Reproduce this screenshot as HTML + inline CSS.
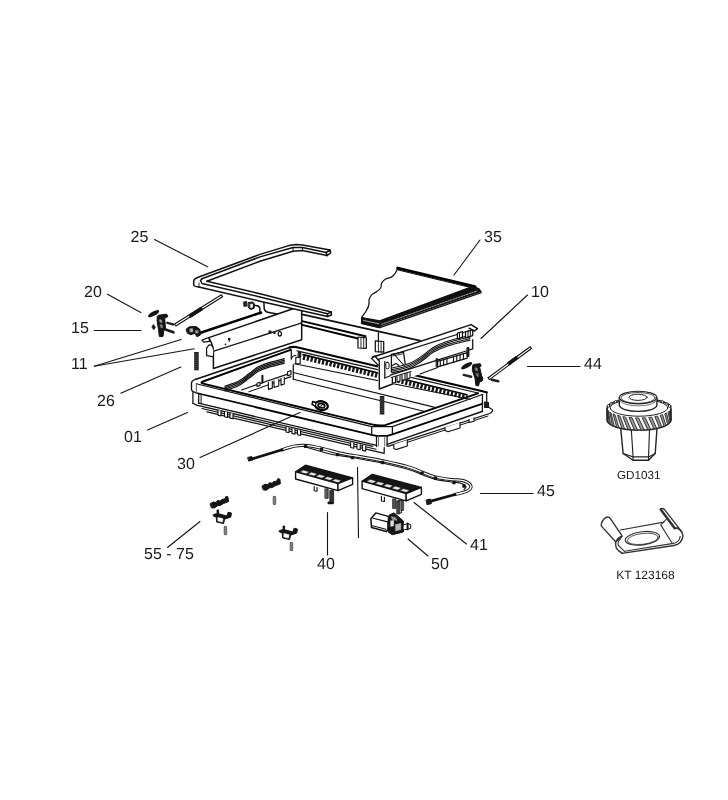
<!DOCTYPE html>
<html><head><meta charset="utf-8"><title>Diagram</title>
<style>
html,body{margin:0;padding:0;background:#fff;}
body{width:728px;height:800px;overflow:hidden;}
svg{display:block;will-change:transform;}
text{font-family:"Liberation Sans",sans-serif;fill:#1a1a1a;text-rendering:geometricPrecision;}
</style></head><body>
<svg width="728" height="800" viewBox="0 0 728 800" stroke-linecap="round" stroke-linejoin="round">
<text x="130.6" y="241.8" font-size="16">25</text>
<text x="484.1" y="241.8" font-size="16">35</text>
<text x="84.1" y="297.0" font-size="16">20</text>
<text x="531.1" y="297.0" font-size="16">10</text>
<text x="71.1" y="333.0" font-size="16">15</text>
<text x="71.1" y="369.0" font-size="16">11</text>
<text x="584.1" y="369.0" font-size="16">44</text>
<text x="97.1" y="405.5" font-size="16">26</text>
<text x="124.1" y="442.0" font-size="16">01</text>
<text x="177.1" y="468.5" font-size="16">30</text>
<text x="537.1" y="496.0" font-size="16">45</text>
<text x="144.1" y="559.0" font-size="16">55 - 75</text>
<text x="317.1" y="568.5" font-size="16">40</text>
<text x="470.1" y="549.5" font-size="16">41</text>
<text x="431.1" y="568.5" font-size="16">50</text>
<text x="617.0" y="479.4" font-size="11.7">GD1031</text>
<text x="616.2" y="579.4" font-size="12">KT 123168</text>
<line x1="154.5" y1="239.5" x2="207.5" y2="266.8" stroke="#151515" stroke-width="1.12"/>
<line x1="107.5" y1="294.2" x2="140.8" y2="312.5" stroke="#151515" stroke-width="1.12"/>
<line x1="94.2" y1="330.5" x2="140.8" y2="330.5" stroke="#151515" stroke-width="1.12"/>
<line x1="94.2" y1="366.2" x2="181.2" y2="339.5" stroke="#151515" stroke-width="1.12"/>
<line x1="94.2" y1="366.2" x2="194.2" y2="348.8" stroke="#151515" stroke-width="1.12"/>
<line x1="120.8" y1="393.2" x2="180.8" y2="367.0" stroke="#151515" stroke-width="1.12"/>
<line x1="480.0" y1="240.0" x2="454.0" y2="275.0" stroke="#151515" stroke-width="1.12"/>
<line x1="527.5" y1="295.0" x2="481.0" y2="338.5" stroke="#151515" stroke-width="1.12"/>
<line x1="527.5" y1="366.5" x2="580.0" y2="366.5" stroke="#151515" stroke-width="1.12"/>
<line x1="147.5" y1="430.0" x2="187.5" y2="412.5" stroke="#151515" stroke-width="1.12"/>
<line x1="200.0" y1="457.5" x2="300.0" y2="412.5" stroke="#151515" stroke-width="1.12"/>
<line x1="167.5" y1="547.5" x2="200.0" y2="521.5" stroke="#151515" stroke-width="1.12"/>
<line x1="327.5" y1="512.5" x2="327.5" y2="555.0" stroke="#151515" stroke-width="1.12"/>
<line x1="357.5" y1="467.5" x2="358.5" y2="537.5" stroke="#151515" stroke-width="1.12"/>
<line x1="408.0" y1="539.0" x2="428.0" y2="556.0" stroke="#151515" stroke-width="1.12"/>
<line x1="480.5" y1="493.5" x2="533.0" y2="493.5" stroke="#151515" stroke-width="1.12"/>
<line x1="414.0" y1="502.5" x2="466.5" y2="544.0" stroke="#151515" stroke-width="1.12"/>
<path d="M397.7,268.1 C397.3,268.9 396.2,271.8 395.2,273.3 C394.1,274.8 392.9,276.2 391.3,277.1 C389.7,278.1 387.2,278.1 385.6,279.0 C384.0,280.0 382.5,281.4 381.7,282.9 C380.9,284.3 381.6,286.2 380.8,287.7 C380.0,289.1 378.4,290.4 376.9,291.5 C375.5,292.7 373.4,293.1 372.1,294.4 C370.8,295.7 369.8,297.5 369.2,299.2 C368.7,301.0 369.3,303.1 368.8,305.0 C368.4,306.9 367.5,308.8 366.3,310.8 C365.2,312.8 362.7,315.9 361.9,316.9 L361.5,323.3 L379.8,327.7 L481.2,292.7 L479.2,289.2 L475.0,286.7 Z" fill="#fff" stroke="#111" stroke-width="1.25" />
<polyline points="397.7,268.1 475.0,286.7" fill="none" stroke="#000" stroke-width="3.0" />
<polyline points="398.1,270.0 473.1,288.1" fill="none" stroke="#111" stroke-width="1.0" />
<polygon points="361.9,317.5 379.8,320.8 470.2,287.3 479.2,289.2 480.8,291.5 380.2,326.0 379.8,327.7 361.5,323.3" fill="#111" stroke="#111" stroke-width="1.25" />
<polyline points="381.7,324.2 476.9,291.0" fill="none" stroke="#ccc" stroke-width="0.8" stroke-dasharray="1.6 1.2"/>
<polyline points="363.5,320.4 378.8,323.8" fill="none" stroke="#ddd" stroke-width="0.75" />
<polyline points="302.1,314.4 419.9,340.7" fill="none" stroke="#111" stroke-width="1.75" />
<polyline points="302.1,321.1 365.5,336.3" fill="none" stroke="#000" stroke-width="2.0" />
<polyline points="302.1,324.9 358.0,338.5" fill="none" stroke="#000" stroke-width="2.0" />
<polygon points="358.0,337.0 366.3,337.8 366.3,348.3 358.0,348.0" fill="#fff" stroke="#111" stroke-width="1.25" />
<polyline points="361.0,337.8 361.0,348.0" fill="none" stroke="#111" stroke-width="0.88" />
<polyline points="363.7,337.8 363.7,348.3" fill="none" stroke="#111" stroke-width="0.88" />
<polyline points="378.4,332.5 378.4,340.8" fill="none" stroke="#111" stroke-width="1.25" />
<polygon points="375.3,340.8 383.7,341.5 383.7,352.1 375.3,351.7" fill="#fff" stroke="#111" stroke-width="1.25" />
<polyline points="378.4,341.1 378.4,351.8" fill="none" stroke="#111" stroke-width="0.88" />
<polyline points="381.1,341.4 381.1,352.1" fill="none" stroke="#111" stroke-width="0.88" />
<path d="M254.8,305.6 Q259.1,305.4 259.8,308.0 L260.0,313.8" fill="none" stroke="#111" stroke-width="1.5" />
<path d="M263.9,302.7 L264.2,308.5 Q264.8,311.9 268.7,312.5 L277.3,314.1" fill="none" stroke="#111" stroke-width="1.5" />
<polygon points="243.7,302.0 246.6,301.3 246.8,306.1 244.2,306.4" fill="#222" stroke="#111" stroke-width="0.75" />
<polygon points="248.5,302.5 252.8,302.0 254.5,304.2 254.1,308.3 250.4,309.5 248.3,307.5" fill="#1a1a1a" stroke="#111" stroke-width="1.0" />
<polygon points="250.6,304.2 252.5,304.0 252.5,307.3 250.6,307.5" fill="#fff" stroke="#fff" stroke-width="0.62" />
<polyline points="199.8,333.0 261.0,312.6" fill="none" stroke="#000" stroke-width="2.5" />
<polygon points="208.8,337.6 301.7,305.8 301.7,339.8 213.4,368.5 213.4,350.4 211.9,344.0" fill="#fff" stroke="#111" stroke-width="1.5" />
<polyline points="213.8,351.1 301.0,323.2" fill="none" stroke="#111" stroke-width="1.25" />
<polygon points="202.0,340.1 208.8,337.5 209.6,341.3 203.6,342.1" fill="#fff" stroke="#111" stroke-width="1.25" />
<path d="M213.4,348.9 Q211.9,343.6 208.8,345.1 L206.6,348.1 L206.6,355.7 L212.9,356.7" fill="#fff" stroke="#111" stroke-width="1.25" />
<circle cx="229.2" cy="339.1" r="1.4" fill="#1a1a1a"/>
<circle cx="225.5" cy="344.3" r="0.9" fill="#1a1a1a"/>
<circle cx="270.0" cy="332.0" r="1.7" fill="#1a1a1a"/>
<circle cx="274.5" cy="332.9" r="1.2" fill="#1a1a1a"/>
<ellipse cx="279.8" cy="333.8" rx="1.6" ry="2.3" fill="#fff" stroke="#000" stroke-width="1.2"/>
<polyline points="229.2,339.5 229.2,341.3" fill="none" stroke="#111" stroke-width="1.12" />
<path d="M196,379.2 L289.5,347.6 Q293.4,346.2 297,347.3" fill="none" stroke="#111" stroke-width="1.62" />
<path d="M289.5,347.6 Q293.4,346.2 297,347.3 L486.7,392.3" fill="none" stroke="#000" stroke-width="2.12" />
<path d="M196,379.2 Q191.3,380.8 191.5,383.5 L191.5,389.5 Q191.5,391.3 196,392.8 L198.5,393.5" fill="none" stroke="#111" stroke-width="1.38" />
<path d="M290.6,349.8 L203,381.5 Q199.5,382.8 203.2,383.7 L371.7,424.3 Q378.5,426 385.2,425.2 L478,393.3" fill="none" stroke="#000" stroke-width="1.88" />
<polyline points="297.0,350.8 478.0,393.0" fill="none" stroke="#111" stroke-width="1.25" />
<polyline points="196.3,383.8 371.7,426.6 392.4,426.6 482.4,394.5" fill="none" stroke="#111" stroke-width="1.12" />
<polyline points="198.5,393.5 371.7,434.8 376.5,435.8 387.1,435.8 392.4,434.3 482.0,403.8" fill="none" stroke="#000" stroke-width="1.75" />
<line x1="196.3" y1="384.0" x2="196.3" y2="392.8" stroke="#555" stroke-width="1.0"/>
<line x1="371.7" y1="426.6" x2="371.7" y2="434.8" stroke="#111" stroke-width="1.25"/>
<line x1="392.4" y1="426.6" x2="392.4" y2="434.3" stroke="#111" stroke-width="1.25"/>
<line x1="482.4" y1="394.5" x2="482.4" y2="411.5" stroke="#111" stroke-width="1.25"/>
<line x1="486.7" y1="392.3" x2="486.7" y2="403.0" stroke="#111" stroke-width="1.25"/>
<line x1="192.9" y1="392.5" x2="192.9" y2="403.3" stroke="#111" stroke-width="1.25"/>
<line x1="198.7" y1="393.8" x2="198.7" y2="403.2" stroke="#111" stroke-width="1.25"/>
<line x1="201.1" y1="394.4" x2="201.1" y2="403.6" stroke="#111" stroke-width="1.0"/>
<polyline points="192.9,403.3 196.6,405.1 372.7,446.3" fill="none" stroke="#111" stroke-width="1.25" />
<polyline points="198.5,403.2 376.5,445.4" fill="none" stroke="#111" stroke-width="1.38" />
<polyline points="207.0,411.9 384.2,453.4 384.2,447.5" fill="none" stroke="#111" stroke-width="1.25" />
<polyline points="202.0,408.5 376.0,449.3" fill="none" stroke="#111" stroke-width="1.12" />
<line x1="376.5" y1="435.8" x2="376.5" y2="446.5" stroke="#111" stroke-width="1.25"/>
<line x1="387.1" y1="435.8" x2="387.1" y2="446.0" stroke="#111" stroke-width="1.25"/>
<line x1="378.5" y1="436.0" x2="378.5" y2="446.0" stroke="#555" stroke-width="0.88"/>
<line x1="384.7" y1="436.0" x2="384.7" y2="446.0" stroke="#555" stroke-width="0.88"/>
<polyline points="387.1,444.4 482.0,411.5" fill="none" stroke="#111" stroke-width="1.38" />
<path d="M388,446.3 L489.6,413.5 Q493.5,411.8 492.2,409.5 L487.5,406.5" fill="none" stroke="#111" stroke-width="1.25" />
<polyline points="396.0,446.0 488.0,416.0" fill="none" stroke="#111" stroke-width="1.0" />
<polygon points="484.8,402.0 488.5,402.5 488.5,407.5 484.8,407.5" fill="#222" stroke="#111" stroke-width="1.0" />
<polyline points="218.0,410.0 218.0,415.2 221.0,415.9 221.0,410.7" fill="#fff" stroke="#111" stroke-width="1.12" />
<polyline points="224.5,411.6 224.5,416.8 227.5,417.5 227.5,412.3" fill="#fff" stroke="#111" stroke-width="1.12" />
<polyline points="230.0,412.9 230.0,418.1 233.0,418.8 233.0,413.6" fill="#fff" stroke="#111" stroke-width="1.12" />
<polyline points="350.6,442.5 350.6,447.5 353.8,448.3 353.8,443.3" fill="#fff" stroke="#111" stroke-width="1.12" />
<polyline points="357.0,444.0 357.0,449.0 360.2,449.8 360.2,444.8" fill="#fff" stroke="#111" stroke-width="1.12" />
<polyline points="362.5,445.4 362.5,450.4 365.7,451.1 365.7,446.1" fill="#fff" stroke="#111" stroke-width="1.12" />
<polyline points="286.0,427.0 286.0,432.0 289.0,432.7 289.0,427.7" fill="#fff" stroke="#111" stroke-width="1.12" />
<polyline points="292.0,428.4 292.0,433.4 295.0,434.2 295.0,429.2" fill="#fff" stroke="#111" stroke-width="1.12" />
<polyline points="297.5,429.8 297.5,434.8 300.5,435.5 300.5,430.5" fill="#fff" stroke="#111" stroke-width="1.12" />
<polyline points="393.8,444.5 393.8,448.6 396.0,449.6 407.3,446.0 407.3,440.0" fill="#fff" stroke="#111" stroke-width="1.12" />
<polyline points="445.0,427.5 445.0,430.5 448.0,431.8 460.0,428.0 460.0,422.5" fill="#fff" stroke="#111" stroke-width="1.12" />
<polyline points="469.0,419.5 469.0,422.5 474.0,421.2 474.0,417.8" fill="#fff" stroke="#111" stroke-width="1.12" />
<line x1="291.3" y1="350.0" x2="291.3" y2="359.0" stroke="#111" stroke-width="1.25"/>
<line x1="293.3" y1="364.5" x2="293.3" y2="379.5" stroke="#111" stroke-width="1.25"/>
<polygon points="295.8,357.5 300.2,357.0 300.2,363.5 295.8,364.0" fill="#fff" stroke="#111" stroke-width="1.12" />
<polygon points="298.5,352.5 300.8,352.5 300.8,357.0 298.5,357.0" fill="#222" stroke="#111" stroke-width="1.0" />
<path d="M291.3,359 Q292,355.5 296,355.5" fill="none" stroke="#111" stroke-width="1.12" />
<line x1="303.0" y1="354.6" x2="467.0" y2="394.7" stroke="#000" stroke-width="1.62"/>
<line x1="303.0" y1="357.3" x2="467.0" y2="397.4" stroke="#151515" stroke-width="4.8" stroke-dasharray="2.3 1.6" stroke-linecap="butt"/>
<line x1="294.6" y1="363.7" x2="470.0" y2="399.3" stroke="#111" stroke-width="1.12"/>
<line x1="293.2" y1="372.5" x2="434.8" y2="407.4" stroke="#111" stroke-width="1.12"/>
<line x1="293.2" y1="379.3" x2="423.8" y2="411.2" stroke="#111" stroke-width="1.12"/>
<path d="M225.0,386.2 C227.4,385.3 235.3,382.8 239.3,380.7 C243.3,378.6 246.1,375.9 249.2,373.6 C252.3,371.3 254.7,368.8 258.0,367.0 C261.3,365.2 264.6,364.0 269.0,362.6 C273.4,361.2 281.8,359.4 284.3,358.7" fill="none" stroke="#111" stroke-width="1.25" />
<path d="M225.0,387.7 C227.4,386.8 235.3,384.3 239.3,382.2 C243.3,380.1 246.1,377.4 249.2,375.1 C252.3,372.8 254.7,370.3 258.0,368.5 C261.3,366.7 264.6,365.5 269.0,364.1 C273.4,362.7 281.8,360.9 284.3,360.2" fill="none" stroke="#111" stroke-width="1.25" />
<path d="M225.0,389.2 C227.4,388.3 235.3,385.8 239.3,383.7 C243.3,381.6 246.1,378.9 249.2,376.6 C252.3,374.3 254.7,371.8 258.0,370.0 C261.3,368.2 264.6,367.0 269.0,365.6 C273.4,364.2 281.8,362.4 284.3,361.7" fill="none" stroke="#111" stroke-width="1.25" />
<path d="M225.0,390.7 C227.4,389.8 235.3,387.3 239.3,385.2 C243.3,383.1 246.1,380.4 249.2,378.1 C252.3,375.8 254.7,373.3 258.0,371.5 C261.3,369.7 264.6,368.5 269.0,367.1 C273.4,365.7 281.8,363.9 284.3,363.2" fill="none" stroke="#111" stroke-width="1.25" />
<polyline points="241.5,390.0 256.9,384.6 287.6,374.1" fill="none" stroke="#111" stroke-width="1.12" />
<polyline points="249.0,391.8 291.0,376.6" fill="none" stroke="#111" stroke-width="1.12" />
<polyline points="262.4,375.8 262.4,382.4" fill="none" stroke="#111" stroke-width="2.0" />
<polygon points="257.0,383.2 260.0,382.2 260.0,385.4 257.0,386.4" fill="#fff" stroke="#111" stroke-width="1.12" />
<polygon points="287.6,371.8 291.0,370.6 291.0,374.6 287.6,375.8" fill="#fff" stroke="#111" stroke-width="1.12" />
<polyline points="268.4,382.6 268.4,389.4 272.3,388.1 272.3,381.3" fill="#fff" stroke="#111" stroke-width="1.12" />
<polyline points="274.0,380.7 274.0,387.5 278.8,385.9 278.8,379.1" fill="#fff" stroke="#111" stroke-width="1.12" />
<polyline points="281.0,378.3 281.0,385.1 284.3,384.0 284.3,377.2" fill="#fff" stroke="#111" stroke-width="1.12" />
<g transform="translate(321.4,405.6) rotate(12)"><ellipse rx="6.5" ry="4.3" fill="#fff" stroke="#000" stroke-width="2.2"/><ellipse rx="3.4" ry="2.1" fill="none" stroke="#000" stroke-width="1.7"/><circle r="0.9" fill="#333"/><path d="M-6.4,-1.8 l-3,-0.4 l0,3 l3,0.8" fill="#fff" stroke="#000" stroke-width="1.5"/></g>
<polygon points="330.0,250.0 302.5,245.0 296.2,244.4 288.8,245.6 260.0,254.4 197.5,277.5 194.0,280.0 193.8,285.0 198.8,286.9 260.0,301.2 327.5,316.4 331.5,315.0 331.2,311.9 260.0,293.8 206.9,281.2 260.0,261.2 293.0,251.2 302.5,250.6 326.9,255.6 330.6,253.0" fill="#fff" stroke="#fff" stroke-width="0.12" />
<polyline points="330.0,250.0 302.5,245.0 296.2,244.4 288.8,245.6 260.0,254.4 197.5,277.5" fill="none" stroke="#111" stroke-width="1.5" />
<path d="M197.5,277.5 Q193.6,279 193.75,281.5 L193.75,285 Q194,286.5 198.75,286.9" fill="none" stroke="#111" stroke-width="1.5" />
<polyline points="326.2,252.5 302.5,247.5 293.0,247.5 260.0,256.9 201.9,278.8" fill="none" stroke="#111" stroke-width="1.5" />
<polyline points="326.9,255.6 302.5,250.6 293.0,251.2 260.0,261.2 206.9,281.2" fill="none" stroke="#111" stroke-width="1.5" />
<polygon points="326.2,252.5 330.0,250.0 330.6,253.0 326.9,255.6" fill="none" stroke="#111" stroke-width="1.5" />
<line x1="293.0" y1="247.5" x2="293.0" y2="251.2" stroke="#111" stroke-width="1.0"/>
<line x1="302.5" y1="247.5" x2="302.5" y2="250.6" stroke="#111" stroke-width="1.0"/>
<polyline points="206.9,281.2 260.0,293.8 331.2,311.9" fill="none" stroke="#111" stroke-width="1.5" />
<polyline points="201.9,278.8 200.5,280.5 202.0,283.5 260.0,297.0 327.5,313.8" fill="none" stroke="#111" stroke-width="1.5" />
<polyline points="198.8,286.9 260.0,301.2 327.5,316.4" fill="none" stroke="#111" stroke-width="1.5" />
<polygon points="327.5,313.8 331.2,311.9 331.5,315.0 327.5,316.5" fill="none" stroke="#111" stroke-width="1.5" />
<line x1="199.0" y1="283.0" x2="199.0" y2="286.5" stroke="#111" stroke-width="0.88"/>
<rect x="194.2" y="352.0" width="4.5" height="18.3" fill="#1a1a1a"/>
<line x1="194.8" y1="354.4" x2="198.1" y2="353.6" stroke="#777" stroke-width="0.5"/>
<line x1="194.8" y1="356.5" x2="198.1" y2="355.7" stroke="#777" stroke-width="0.5"/>
<line x1="194.8" y1="358.5" x2="198.1" y2="357.7" stroke="#777" stroke-width="0.5"/>
<line x1="194.8" y1="360.5" x2="198.1" y2="359.7" stroke="#777" stroke-width="0.5"/>
<line x1="194.8" y1="362.6" x2="198.1" y2="361.8" stroke="#777" stroke-width="0.5"/>
<line x1="194.8" y1="364.6" x2="198.1" y2="363.8" stroke="#777" stroke-width="0.5"/>
<line x1="194.8" y1="366.6" x2="198.1" y2="365.8" stroke="#777" stroke-width="0.5"/>
<line x1="194.8" y1="368.7" x2="198.1" y2="367.9" stroke="#777" stroke-width="0.5"/>
<rect x="379.8" y="396.0" width="4.5" height="18.5" fill="#1a1a1a"/>
<line x1="380.4" y1="398.5" x2="383.7" y2="397.7" stroke="#777" stroke-width="0.5"/>
<line x1="380.4" y1="400.5" x2="383.7" y2="399.7" stroke="#777" stroke-width="0.5"/>
<line x1="380.4" y1="402.6" x2="383.7" y2="401.8" stroke="#777" stroke-width="0.5"/>
<line x1="380.4" y1="404.6" x2="383.7" y2="403.8" stroke="#777" stroke-width="0.5"/>
<line x1="380.4" y1="406.7" x2="383.7" y2="405.9" stroke="#777" stroke-width="0.5"/>
<line x1="380.4" y1="408.7" x2="383.7" y2="407.9" stroke="#777" stroke-width="0.5"/>
<line x1="380.4" y1="410.8" x2="383.7" y2="410.0" stroke="#777" stroke-width="0.5"/>
<line x1="380.4" y1="412.8" x2="383.7" y2="412.0" stroke="#777" stroke-width="0.5"/>
<polygon points="372.1,357.5 471.1,324.6 477.5,328.6 474.5,331.0 472.7,340.0 472.7,348.8 468.9,350.0 468.9,356.5 467.3,358.1 437.6,367.2 420.0,374.0 392.5,384.0 378.2,389.0 378.2,361.5" fill="#fff" stroke="#fff" stroke-width="0.12" />
<polyline points="373.2,357.0 471.1,324.6 477.5,328.6 474.5,331.0 469.0,328.2" fill="none" stroke="#111" stroke-width="1.5" />
<polyline points="377.5,359.6 470.4,330.2" fill="none" stroke="#111" stroke-width="1.12" />
<path d="M371.8,358.6 Q372.5,356 375,356.3 L379.3,361 L379.3,389 L392.5,384 L392.5,378" fill="none" stroke="#111" stroke-width="1.38" />
<line x1="371.8" y1="358.6" x2="378.2" y2="365.3" stroke="#111" stroke-width="1.25"/>
<line x1="384.8" y1="361.5" x2="384.8" y2="378.0" stroke="#111" stroke-width="1.25"/>
<line x1="384.8" y1="378.0" x2="390.3" y2="375.8" stroke="#111" stroke-width="1.12"/>
<rect x="385.8" y="362.3" width="3.2" height="6.5" rx="1.5" fill="#fff" stroke="#000" stroke-width="0.9"/>
<polyline points="391.4,372.0 391.4,354.3 403.5,351.8 405.2,364.0" fill="none" stroke="#111" stroke-width="1.25" />
<polyline points="393.0,356.0 402.5,353.8" fill="none" stroke="#111" stroke-width="0.88" />
<polyline points="395.2,355.5 404.0,365.5" fill="none" stroke="#111" stroke-width="1.12" />
<polyline points="391.4,366.0 396.0,363.5 399.0,365.5" fill="none" stroke="#111" stroke-width="1.12" />
<path d="M392.0,368.0 C394.8,367.3 404.0,365.6 409.0,363.6 C414.0,361.6 418.1,358.7 422.1,356.0 C426.1,353.3 429.0,350.0 433.2,347.5 C437.4,345.0 441.4,343.2 447.5,341.2 C453.6,339.2 466.2,336.3 470.0,335.3" fill="none" stroke="#111" stroke-width="1.12" />
<path d="M392.0,369.6 C394.8,368.9 404.0,367.2 409.0,365.2 C414.0,363.2 418.1,360.3 422.1,357.6 C426.1,354.9 429.0,351.6 433.2,349.1 C437.4,346.6 441.4,344.8 447.5,342.8 C453.6,340.8 466.2,337.9 470.0,336.9" fill="none" stroke="#111" stroke-width="1.12" />
<path d="M392.0,371.2 C394.8,370.5 404.0,368.8 409.0,366.8 C414.0,364.8 418.1,361.9 422.1,359.2 C426.1,356.5 429.0,353.2 433.2,350.7 C437.4,348.2 441.4,346.4 447.5,344.4 C453.6,342.4 466.2,339.5 470.0,338.5" fill="none" stroke="#111" stroke-width="1.12" />
<path d="M392.0,372.8 C394.8,372.1 404.0,370.4 409.0,368.4 C414.0,366.4 418.1,363.5 422.1,360.8 C426.1,358.1 429.0,354.8 433.2,352.3 C437.4,349.8 441.4,348.0 447.5,346.0 C453.6,344.0 466.2,341.1 470.0,340.1" fill="none" stroke="#111" stroke-width="1.12" />
<polyline points="390.3,375.2 436.5,360.3 466.2,351.0" fill="none" stroke="#111" stroke-width="1.25" />
<polyline points="391.4,377.5 411.0,371.5" fill="none" stroke="#111" stroke-width="1.12" />
<polyline points="392.5,377.8 392.5,383.3 395.5,382.4 395.5,376.9" fill="#fff" stroke="#111" stroke-width="1.12" />
<polyline points="397.0,376.4 397.0,381.9 400.0,381.1 400.0,375.6" fill="#fff" stroke="#111" stroke-width="1.12" />
<polyline points="402.0,374.9 402.0,380.4 405.0,379.6 405.0,374.1" fill="#fff" stroke="#111" stroke-width="1.12" />
<polyline points="407.0,373.4 407.0,378.9 410.0,378.1 410.0,372.6" fill="#fff" stroke="#111" stroke-width="1.12" />
<polygon points="437.6,361.4 467.3,352.6 467.3,358.1 437.6,366.9" fill="#fff" stroke="#111" stroke-width="1.12" />
<line x1="440.3" y1="360.6" x2="440.3" y2="366.1" stroke="#111" stroke-width="1.12"/>
<line x1="443.6" y1="359.6" x2="443.6" y2="365.1" stroke="#111" stroke-width="1.12"/>
<line x1="446.9" y1="358.6" x2="446.9" y2="364.1" stroke="#111" stroke-width="1.12"/>
<line x1="453.5" y1="356.7" x2="453.5" y2="362.2" stroke="#111" stroke-width="1.12"/>
<line x1="456.8" y1="355.7" x2="456.8" y2="361.2" stroke="#111" stroke-width="1.12"/>
<line x1="460.1" y1="354.7" x2="460.1" y2="360.2" stroke="#111" stroke-width="1.12"/>
<line x1="463.4" y1="353.8" x2="463.4" y2="359.3" stroke="#111" stroke-width="1.12"/>
<polygon points="436.5,358.7 437.6,358.7 437.6,366.5 436.5,366.5" fill="#111" stroke="#111" stroke-width="1.0" />
<polygon points="467.3,347.6 468.9,347.6 468.9,356.5 467.3,356.5" fill="#111" stroke="#111" stroke-width="1.0" />
<polyline points="420.0,374.0 437.6,367.5" fill="none" stroke="#111" stroke-width="1.25" />
<polyline points="472.7,339.5 472.7,348.8 468.9,350.0" fill="none" stroke="#111" stroke-width="1.25" />
<polygon points="457.4,333.2 462.5,331.6 462.5,337.2 457.4,338.8" fill="#fff" stroke="#111" stroke-width="1.25" />
<polygon points="465.5,332.0 472.7,329.8 472.7,335.6 465.5,337.8" fill="#fff" stroke="#111" stroke-width="1.25" />
<line x1="459.5" y1="332.6" x2="459.5" y2="338.2" stroke="#111" stroke-width="1.0"/>
<line x1="468.0" y1="331.2" x2="468.0" y2="337.0" stroke="#111" stroke-width="1.0"/>
<line x1="470.3" y1="330.5" x2="470.3" y2="336.3" stroke="#111" stroke-width="1.0"/>
<ellipse cx="153.6" cy="313.7" rx="6.3" ry="2.2" fill="#151515" transform="rotate(-29.0 153.6 313.7)"/>
<polygon points="158.5,315.3 166.6,314.1 167.9,316.6 164.7,318.2 165.6,329.3 163.7,331.0 163.0,336.4 159.3,336.4 158.5,329.6 157.1,320.9 157.3,316.6" fill="#151515" stroke="#111" stroke-width="1.0" />
<polygon points="159.8,319.7 161.6,320.0 162.0,322.4 160.1,322.1" fill="#999" stroke="#999" stroke-width="0.62" />
<polygon points="160.4,324.6 162.2,325.0 162.5,327.7 160.8,327.3" fill="#888" stroke="#888" stroke-width="0.62" />
<polygon points="153.6,324.9 155.3,327.1 153.8,329.6 152.1,327.3" fill="#151515" stroke="#111" stroke-width="1.0" />
<polyline points="167.4,322.9 173.1,324.4" fill="none" stroke="#222" stroke-width="2.5" />
<polyline points="166.2,329.8 173.4,332.3" fill="none" stroke="#1a1a1a" stroke-width="2.75" />
<polygon points="175.8,326.0 222.6,296.8 221.4,294.8 174.6,324.0" fill="#fff" stroke="#111" stroke-width="1.12" />
<polygon points="190.8,317.3 202.8,309.7 201.2,307.1 189.2,314.7" fill="#151515" stroke="#111" stroke-width="1.0" />
<polygon points="186.4,328.9 189.4,326.8 196.2,326.6 200.0,329.6 200.3,335.1 196.9,336.7 195.0,333.3 190.7,334.7 187.6,333.3" fill="#151515" stroke="#111" stroke-width="1.0" />
<polygon points="190.1,328.9 192.5,328.6 192.9,331.4 190.4,332.0" fill="#bbb" stroke="#bbb" stroke-width="0.62" />
<polygon points="195.6,330.8 198.1,330.5 198.1,333.0 195.9,333.0" fill="#999" stroke="#999" stroke-width="0.62" />
<ellipse cx="466.7" cy="365.7" rx="6.3" ry="2.2" fill="#151515" transform="rotate(-30.0 466.7 365.7)"/>
<polygon points="473.5,364.4 480.3,363.7 481.2,365.9 479.7,367.4 481.6,375.8 482.9,378.3 482.2,381.0 479.4,382.0 478.7,385.7 476.0,385.7 475.0,378.3 472.3,370.2 472.6,365.9" fill="#151515" stroke="#111" stroke-width="1.0" />
<polygon points="475.4,367.8 477.2,368.1 477.6,370.8 475.8,370.6" fill="#888" stroke="#888" stroke-width="0.62" />
<polygon points="476.3,373.3 478.2,373.7 478.5,376.4 476.8,376.0" fill="#777" stroke="#777" stroke-width="0.62" />
<polyline points="463.7,374.9 471.1,376.8" fill="none" stroke="#222" stroke-width="2.5" />
<polygon points="489.5,379.6 531.5,348.5 530.1,346.7 488.1,377.8" fill="#fff" stroke="#111" stroke-width="1.12" />
<polygon points="509.5,364.7 517.9,358.5 516.1,356.3 507.7,362.5" fill="#151515" stroke="#111" stroke-width="1.0" />
<polyline points="491.7,379.7 498.3,381.2" fill="none" stroke="#222" stroke-width="2.5" />
<path d="M282.0,449.8 C283.9,449.2 289.9,447.0 293.6,446.3 C297.3,445.6 299.8,445.1 304.3,445.4 C308.8,445.7 314.4,446.7 320.4,448.0 C326.3,449.3 334.2,451.9 340.0,453.2 C345.8,454.5 348.0,454.6 355.0,455.8 C362.0,457.0 372.9,458.7 381.8,460.6 C390.7,462.5 401.8,465.0 408.6,467.0 C415.5,469.0 418.4,470.9 422.9,472.6 C427.4,474.3 430.6,475.8 435.4,477.0 C440.1,478.2 446.9,479.0 451.4,479.6 C455.8,480.2 458.9,479.5 462.1,480.4 C465.3,481.3 469.5,483.3 470.5,485.0 C471.5,486.7 470.6,489.0 468.0,490.6 C465.4,492.2 457.2,493.9 455.0,494.5" fill="none" stroke="#111" stroke-width="3.25" />
<path d="M282.0,449.8 C283.9,449.2 289.9,447.0 293.6,446.3 C297.3,445.6 299.8,445.1 304.3,445.4 C308.8,445.7 314.4,446.7 320.4,448.0 C326.3,449.3 334.2,451.9 340.0,453.2 C345.8,454.5 348.0,454.6 355.0,455.8 C362.0,457.0 372.9,458.7 381.8,460.6 C390.7,462.5 401.8,465.0 408.6,467.0 C415.5,469.0 418.4,470.9 422.9,472.6 C427.4,474.3 430.6,475.8 435.4,477.0 C440.1,478.2 446.9,479.0 451.4,479.6 C455.8,480.2 458.9,479.5 462.1,480.4 C465.3,481.3 469.5,483.3 470.5,485.0 C471.5,486.7 470.6,489.0 468.0,490.6 C465.4,492.2 457.2,493.9 455.0,494.5" fill="none" stroke="#fff" stroke-width="1.38" />
<path d="M304.3,446.5 C306.2,447.1 311.7,448.8 316.0,450.0 C320.3,451.2 323.5,452.7 330.0,454.0 C336.5,455.3 346.4,456.5 355.0,458.0 C363.6,459.5 372.9,461.1 381.8,463.0 C390.7,464.9 401.8,467.5 408.6,469.5 C415.5,471.5 418.4,473.4 422.9,475.0 C427.4,476.6 430.6,478.2 435.4,479.4 C440.1,480.6 447.3,481.4 451.4,482.0 C455.5,482.6 457.6,482.2 460.0,483.0 C462.4,483.8 465.3,485.4 466.0,486.5 C466.7,487.6 464.3,489.0 464.0,489.5" fill="none" stroke="#111" stroke-width="1.12" />
<line x1="252.5" y1="458.8" x2="282.0" y2="449.8" stroke="#111" stroke-width="2.75"/>
<polygon points="248.0,457.4 251.8,456.6 252.8,460.0 249.0,461.0" fill="#151515" stroke="#111" stroke-width="1.0" />
<line x1="455.0" y1="494.5" x2="430.0" y2="501.3" stroke="#111" stroke-width="2.75"/>
<polygon points="426.4,500.0 430.4,499.0 431.4,503.6 427.4,504.6" fill="#151515" stroke="#111" stroke-width="1.0" />
<rect x="303.8" y="444.6" width="3.4" height="3.4" rx="0.8" fill="#151515"/>
<rect x="319.8" y="447.5" width="3.4" height="3.4" rx="0.8" fill="#151515"/>
<rect x="335.8" y="452.9" width="3.4" height="3.4" rx="0.8" fill="#151515"/>
<rect x="350.8" y="455.9" width="3.4" height="3.4" rx="0.8" fill="#151515"/>
<rect x="380.8" y="460.8" width="3.4" height="3.4" rx="0.8" fill="#151515"/>
<rect x="420.3" y="471.5" width="3.4" height="3.4" rx="0.8" fill="#151515"/>
<rect x="433.7" y="476.3" width="3.4" height="3.4" rx="0.8" fill="#151515"/>
<rect x="452.3" y="480.8" width="3.4" height="3.4" rx="0.8" fill="#151515"/>
<rect x="462.3" y="484.3" width="3.4" height="3.4" rx="0.8" fill="#151515"/>
<polygon points="295.6,471.8 305.4,465.2 352.6,477.8 338.0,483.6" fill="#151515" stroke="#111" stroke-width="1.25" />
<polygon points="295.6,471.8 338.0,483.6 338.0,490.6 295.6,479.0" fill="#fff" stroke="#111" stroke-width="1.38" />
<polygon points="338.0,483.6 352.6,477.8 352.6,484.4 338.0,490.6" fill="#fff" stroke="#111" stroke-width="1.38" />
<polygon points="303.4,470.4 308.6,471.9 306.0,473.4 300.8,471.9" fill="#e8e8e8" stroke="#e8e8e8" stroke-width="0.25" />
<polygon points="311.4,472.6 316.6,474.1 314.0,475.6 308.8,474.2" fill="#e8e8e8" stroke="#e8e8e8" stroke-width="0.25" />
<polygon points="319.4,474.8 324.6,476.2 322.0,477.8 316.8,476.4" fill="#e8e8e8" stroke="#e8e8e8" stroke-width="0.25" />
<polygon points="327.4,477.0 332.6,478.4 330.0,480.0 324.8,478.6" fill="#e8e8e8" stroke="#e8e8e8" stroke-width="0.25" />
<polygon points="335.4,479.2 340.6,480.7 338.0,482.2 332.8,480.8" fill="#e8e8e8" stroke="#e8e8e8" stroke-width="0.25" />
<polyline points="314.2,486.4 314.2,490.8 317.0,491.3 317.0,487.2" fill="#fff" stroke="#111" stroke-width="1.12" />
<rect x="325.2" y="488.8" width="3.0" height="9.5" fill="#555" stroke="#111" stroke-width="0.7"/>
<rect x="330.4" y="490.3" width="3.2" height="12.5" fill="#fff" stroke="#111" stroke-width="0.9"/>
<rect x="327.5" y="501.6" width="6.4" height="2.6" rx="1" fill="#151515"/>
<rect x="329.6" y="490" width="3.6" height="12" fill="#333"/>
<polygon points="362.1,481.2 372.3,474.3 421.4,487.4 406.2,493.5" fill="#151515" stroke="#111" stroke-width="1.25" />
<polygon points="362.1,481.2 406.2,493.5 406.2,500.8 362.1,488.7" fill="#fff" stroke="#111" stroke-width="1.38" />
<polygon points="406.2,493.5 421.4,487.4 421.4,494.3 406.2,500.8" fill="#fff" stroke="#111" stroke-width="1.38" />
<polygon points="370.2,479.7 375.6,481.3 372.9,482.9 367.5,481.4" fill="#e8e8e8" stroke="#e8e8e8" stroke-width="0.25" />
<polygon points="378.5,482.0 383.9,483.5 381.2,485.2 375.8,483.6" fill="#e8e8e8" stroke="#e8e8e8" stroke-width="0.25" />
<polygon points="386.9,484.3 392.3,485.8 389.6,487.4 384.1,485.9" fill="#e8e8e8" stroke="#e8e8e8" stroke-width="0.25" />
<polygon points="395.2,486.6 400.6,488.1 397.9,489.7 392.5,488.2" fill="#e8e8e8" stroke="#e8e8e8" stroke-width="0.25" />
<polygon points="403.5,488.9 408.9,490.4 406.2,492.0 400.8,490.5" fill="#e8e8e8" stroke="#e8e8e8" stroke-width="0.25" />
<polyline points="381.4,496.4 381.4,501.0 384.4,501.5 384.4,497.2" fill="#fff" stroke="#111" stroke-width="1.12" />
<rect x="392.9" y="498.9" width="3.0" height="9.5" fill="#555" stroke="#111" stroke-width="0.7"/>
<rect x="398.3" y="500.4" width="3.2" height="12.5" fill="#fff" stroke="#111" stroke-width="0.9"/>
<rect x="401.2" y="500.5" width="2.4" height="10" fill="#555" stroke="#111" stroke-width="0.6"/>
<rect x="396.8" y="501" width="3.0" height="13" fill="#444" stroke="#111" stroke-width="0.6"/>
<polygon points="372.1,517.2 375.8,512.9 390.0,516.9 390.0,527.5 386.3,531.4 371.5,527.5 370.9,519.0" fill="#fff" stroke="#111" stroke-width="1.5" />
<polyline points="373.0,518.2 387.8,521.9 387.8,529.8" fill="none" stroke="#111" stroke-width="1.12" />
<polyline points="387.8,521.9 389.7,519.7" fill="none" stroke="#111" stroke-width="1.12" />
<polyline points="372.4,525.8 386.0,529.3" fill="none" stroke="#111" stroke-width="1.12" />
<polygon points="389.7,514.7 394.0,512.9 403.3,520.9 403.3,532.0 392.4,534.7 388.2,532.0 388.2,517.8" fill="#151515" stroke="#111" stroke-width="1.0" />
<polygon points="395.8,524.6 400.8,523.6 400.8,529.6 395.8,530.8" fill="#bbb" stroke="#bbb" stroke-width="0.62" />
<polygon points="390.9,520.9 393.6,520.4 393.6,525.8 390.9,526.3" fill="#ddd" stroke="#ddd" stroke-width="0.62" />
<polygon points="391.5,516.6 395.8,517.8 397.1,520.3 392.4,519.4" fill="#999" stroke="#999" stroke-width="0.62" />
<polygon points="403.3,524.9 407.6,523.6 410.7,524.6 410.7,528.3 407.6,529.3 403.3,529.8" fill="#fff" stroke="#111" stroke-width="1.0" />
<polyline points="407.6,523.6 407.6,529.3" fill="none" stroke="#111" stroke-width="2.0" />
<polygon points="210.3,503.7 213.3,502.0 216.3,502.6 217.3,500.6 220.3,501.0 221.8,499.4 224.8,499.0 225.8,496.6 227.9,496.8 228.5,501.6 223.3,503.6 220.3,505.4 217.8,505.6 214.3,508.0 211.8,507.8" fill="#151515" stroke="#111" stroke-width="1.0" />
<polygon points="262.2,485.9 265.2,484.2 268.2,484.8 269.2,482.8 272.2,483.2 273.7,481.6 276.7,481.2 277.7,478.8 279.8,479.0 280.4,483.8 275.2,485.8 272.2,487.6 269.7,487.8 266.2,490.2 263.7,490.0" fill="#151515" stroke="#111" stroke-width="1.0" />
<polygon points="213.6,514.5 217.1,513.6 217.1,510.0 218.6,510.0 218.6,513.8 227.1,516.0 228.1,512.2 231.4,513.0 230.8,517.0 224.6,519.2 223.6,523.6 216.6,522.0 216.2,517.0 213.6,516.0" fill="#151515" stroke="#111" stroke-width="1.0" />
<polygon points="218.2,517.6 223.0,518.8 222.4,522.0 218.0,520.9" fill="#fff" stroke="#fff" stroke-width="0.62" />
<polygon points="279.6,530.5 283.1,529.6 283.1,526.0 284.6,526.0 284.6,529.8 293.1,532.0 294.1,528.2 297.4,529.0 296.8,533.0 290.6,535.2 289.6,539.6 282.6,538.0 282.2,533.0 279.6,532.0" fill="#151515" stroke="#111" stroke-width="1.0" />
<polygon points="284.2,533.6 289.0,534.8 288.4,538.0 284.0,536.9" fill="#fff" stroke="#fff" stroke-width="0.62" />
<rect x="224.2" y="526.6" width="2.5" height="8.2" rx="0.8" fill="#888" stroke="#333" stroke-width="0.7"/>
<rect x="273.2" y="496.4" width="2.5" height="8.2" rx="0.8" fill="#888" stroke="#333" stroke-width="0.7"/>
<rect x="290.2" y="542.5" width="2.5" height="8.2" rx="0.8" fill="#888" stroke="#333" stroke-width="0.7"/>
<polygon points="620.6,426.9 623.1,453.5 633.1,460.2 648.5,460.2 655.2,453.5 657.1,426.9" fill="#fff" stroke="#222" stroke-width="1.38" />
<polyline points="623.1,453.5 633.1,456.9 648.5,456.9 655.2,453.5" fill="none" stroke="#222" stroke-width="1.12" />
<polyline points="631.2,428.1 633.1,456.9 633.1,460.2" fill="none" stroke="#222" stroke-width="1.12" />
<polyline points="649.6,428.1 648.5,456.9 648.5,460.2" fill="none" stroke="#222" stroke-width="1.12" />
<path d="M607.0,408.3 A32.0,10.0 0 0 1 671.0,408.3 L671.0,420.1 A32.0,10.0 0 0 1 607.0,420.1 Z" fill="#fff" stroke="#222" stroke-width="1.5" />
<polygon points="607.0,408.3 607.5,421.8 608.2,422.8 607.2,409.3" fill="#999" stroke="#222" stroke-width="0.88" />
<polygon points="607.7,410.4 609.3,423.8 610.6,424.7 608.5,411.3" fill="#999" stroke="#222" stroke-width="0.88" />
<polygon points="609.8,412.4 612.4,425.7 614.3,426.5 611.2,413.3" fill="#999" stroke="#222" stroke-width="0.88" />
<polygon points="613.1,414.2 616.7,427.3 619.1,427.9 615.1,415.0" fill="#999" stroke="#222" stroke-width="0.88" />
<polygon points="617.6,415.7 621.9,428.6 624.7,429.0 620.1,416.4" fill="#999" stroke="#222" stroke-width="0.88" />
<polygon points="623.0,417.0 627.9,429.5 631.0,429.8 625.8,417.4" fill="#999" stroke="#222" stroke-width="0.88" />
<polygon points="629.1,417.8 634.4,430.0 637.6,430.1 632.2,418.1" fill="#999" stroke="#222" stroke-width="0.88" />
<polygon points="635.7,418.2 641.1,430.1 644.3,430.0 638.8,418.3" fill="#999" stroke="#222" stroke-width="0.88" />
<polygon points="642.3,418.2 647.7,429.7 650.7,429.4 645.5,418.1" fill="#999" stroke="#222" stroke-width="0.88" />
<polygon points="648.9,417.8 653.9,429.0 656.6,428.4 651.9,417.5" fill="#999" stroke="#222" stroke-width="0.88" />
<polygon points="655.0,417.0 659.5,427.8 661.8,427.1 657.7,416.4" fill="#999" stroke="#222" stroke-width="0.88" />
<polygon points="660.4,415.7 664.1,426.3 666.0,425.5 662.7,415.0" fill="#999" stroke="#222" stroke-width="0.88" />
<polygon points="664.9,414.2 667.7,424.5 669.0,423.6 666.6,413.3" fill="#999" stroke="#222" stroke-width="0.88" />
<polygon points="668.2,412.4 670.0,422.6 670.6,421.6 669.4,411.4" fill="#999" stroke="#222" stroke-width="0.88" />
<polygon points="670.3,410.4 671.0,420.5 670.9,419.5 670.8,409.4" fill="#999" stroke="#222" stroke-width="0.88" />
<circle cx="608.4" cy="406.0" r="1.3" fill="#fff" stroke="#222" stroke-width="0.9"/>
<circle cx="611.1" cy="403.9" r="1.3" fill="#fff" stroke="#222" stroke-width="0.9"/>
<circle cx="615.4" cy="402.0" r="1.3" fill="#fff" stroke="#222" stroke-width="0.9"/>
<circle cx="662.6" cy="402.0" r="1.3" fill="#fff" stroke="#222" stroke-width="0.9"/>
<circle cx="666.9" cy="403.9" r="1.3" fill="#fff" stroke="#222" stroke-width="0.9"/>
<circle cx="669.6" cy="406.0" r="1.3" fill="#fff" stroke="#222" stroke-width="0.9"/>
<ellipse cx="639.0" cy="407.8" rx="28.8" ry="8.4" fill="#fff" stroke="#222" stroke-width="1.0"/>
<path d="M619.3,397.6 L619.3,405.1 A18.8,6.3 0 0 0 656.9,405.1 L656.9,397.6" fill="#fff" stroke="#222" stroke-width="1.38" />
<ellipse cx="638.1" cy="397.6" rx="18.8" ry="6.3" fill="#fff" stroke="#222" stroke-width="1.1"/>
<ellipse cx="638.1" cy="397.9" rx="17.2" ry="5.4" fill="none" stroke="#222" stroke-width="0.8"/>
<ellipse cx="638.1" cy="397.3" rx="9.0" ry="3.1" fill="none" stroke="#222" stroke-width="1.0"/>
<path d="M619.3,399.6 A18.8,6.3 0 0 0 656.9,399.6" fill="none" stroke="#666" stroke-width="0.88" />
<polygon points="620.4,530.0 663.7,522.5 677.4,528.0 682.2,533.5 681.5,539.0 676.0,545.1 622.5,553.4 617.0,549.9 615.3,544.5" fill="#fff" stroke="#fff" stroke-width="0.12" />
<polyline points="620.4,530.0 663.7,522.2" fill="none" stroke="#333" stroke-width="1.25" />
<path d="M621.8,553.4 L674.0,545.5 Q681.8,544.2 682.9,536.2 L682.6,534.1 Q680.9,528.7 675.4,528.0" fill="none" stroke="#333" stroke-width="1.38" />
<path d="M624.5,551.3 L673.3,543.4 Q679.5,542.4 680.2,536.2" fill="none" stroke="#333" stroke-width="1.12" />
<path d="M601.2,525.9 Q601.2,520.4 606.0,517.3 Q608.7,516.3 610.4,518.6 L621.4,534.8 Q622.5,536.9 620.4,537.9 L615.6,541.7 Z" fill="#fff" stroke="#333" stroke-width="1.38" />
<path d="M622.2,536.2 Q617.0,537.6 615.6,543.1 Q615.3,547.9 618.4,550.6 L622.5,553.4" fill="none" stroke="#333" stroke-width="1.38" />
<path d="M620.4,539.0 Q617.7,541.0 618.1,545.1 L624.5,551.3" fill="none" stroke="#333" stroke-width="1.12" />
<path d="M660.7,509.4 Q662.0,507.6 664.4,509.4 L681.8,531.8" fill="none" stroke="#333" stroke-width="1.38" />
<polyline points="660.7,509.4 674.7,528.2" fill="none" stroke="#333" stroke-width="2.5" />
<polyline points="666.4,519.0 663.7,522.2 660.7,524.9 671.9,542.8" fill="none" stroke="#333" stroke-width="1.12" />
<polyline points="674.7,528.2 677.4,527.7" fill="none" stroke="#333" stroke-width="1.12" />
<g transform="translate(642.4,538.3) rotate(-7)"><ellipse rx="17.3" ry="6.6" fill="none" stroke="#333" stroke-width="1.1"/><ellipse cx="0.3" cy="0.6" rx="15.6" ry="5.4" fill="none" stroke="#333" stroke-width="0.8"/></g>
</svg>
</body></html>
